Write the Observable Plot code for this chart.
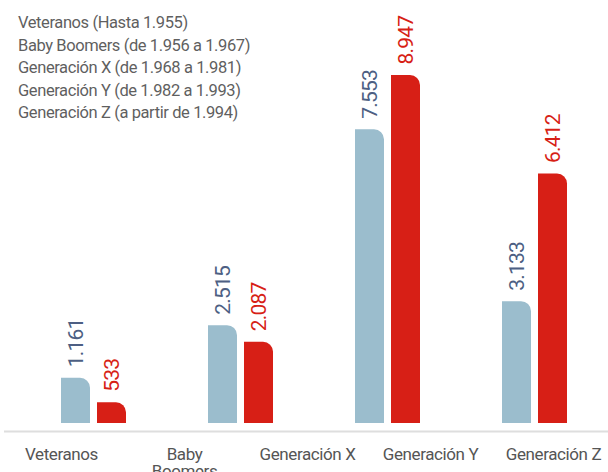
<!DOCTYPE html>
<html>
<head>
<meta charset="utf-8">
<script src="https://cdn.jsdelivr.net/npm/d3@7"></script>
<script src="https://cdn.jsdelivr.net/npm/@observablehq/plot@0.6"></script>
<style>
  html, body { margin: 0; padding: 0; background: #fff; }
  #chart { position: relative; width: 608px; height: 472px; overflow: hidden; }
  #chart svg { display: block; }
  #legend { position: absolute; left: 18px; top: 12px; font-family: Roboto, sans-serif; font-size: 16.5px; letter-spacing: -0.4px; line-height: 22.5px; color: #5f5f5f; white-space: pre; }
</style>
</head>
<body>
<div id="chart"><div id="legend"></div></div>
<script>
// ---- data ----
const legendLines = [
  "Veteranos (Hasta 1.955)",
  "Baby Boomers (de 1.956 a 1.967)",
  "Generación X (de 1.968 a 1.981)",
  "Generación Y (de 1.982 a 1.993)",
  "Generación Z (a partir de 1.994)"
];
const xLabels = ["Veteranos", "Baby\nBoomers", "Generación X", "Generación Y", "Generación Z"];
const groups = ["Grupo 1", "Grupo 2", "Grupo 3", "Grupo 4"];
const series = ["Serie A", "Serie B"];
const valuesA = [1161, 2515, 7553, 3133];
const valuesB = [533, 2087, 8947, 6412];
const barColors = ["#9bbdcd", "#d71f16"];
const labelColors = ["#4d5f83", "#d71f16"];

const data = [];
groups.forEach((g, i) => {
  data.push({group: g, series: series[0], value: valuesA[i]});
  data.push({group: g, series: series[1], value: valuesB[i]});
});

const fmt = d3.formatLocale({decimal: ",", thousands: ".", grouping: [3], currency: ["", ""]}).format(",d");
const font = "Roboto, sans-serif";

document.getElementById("legend").textContent = legendLines.join("\n");

const bars = Plot.plot({
  width: 608,
  height: 430,
  marginTop: 75,
  marginBottom: 7,
  marginLeft: 19,
  marginRight: 0,
  style: {fontFamily: font, background: "transparent", letterSpacing: "-0.8px"},
  fx: {domain: groups, padding: 0, axis: null},
  x: {domain: series, paddingInner: 0.19, paddingOuter: 1.09, axis: null},
  y: {axis: null},
  color: {domain: series, range: barColors},
  marks: [
    Plot.barY(data, {fx: "group", x: "series", y: "value", fill: "series", rx2y1: 10}),
    Plot.text(data, {
      fx: "group", x: "series", y: "value",
      text: d => fmt(d.value),
      rotate: -90, textAnchor: "start", dy: -11,
      fill: d => labelColors[series.indexOf(d.series)],
      fontSize: 21
    })
  ]
});

const axis = Plot.plot({
  width: 608,
  height: 42,
  marginTop: 0,
  marginBottom: 41,
  marginLeft: 4,
  marginRight: 0,
  style: {fontFamily: font, background: "transparent", overflow: "visible", letterSpacing: "-0.4px"},
  x: {type: "point", domain: xLabels, range: [60, 553], padding: 0, axis: null},
  y: {domain: [0, 1], axis: null},
  marks: [
    Plot.ruleY([0], {stroke: "#dedede", strokeWidth: 2}),
    Plot.axisX({tickSize: 0, tickPadding: 16, fontSize: 17, fill: "#555", lineHeight: 1, textOverflow: null})
  ]
});

const chart = document.getElementById("chart");
chart.appendChild(bars);
chart.appendChild(axis);
</script>
</body>
</html>
